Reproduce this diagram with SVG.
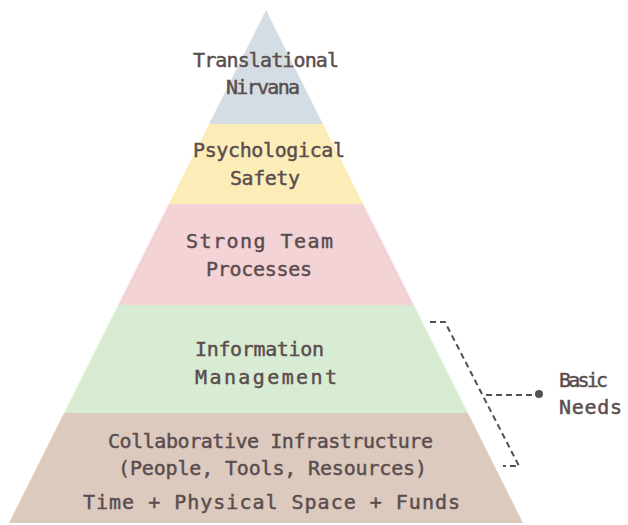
<svg xmlns="http://www.w3.org/2000/svg" width="628" height="525" viewBox="0 0 628 525">
  <style>
    .lbl { font-family: "DejaVu Sans Mono", "Liberation Mono", monospace; font-size: 20px; fill: #5a4d4e; stroke: #5a4d4e; stroke-width: 0.45; text-anchor: middle; }
    .side { text-anchor: start; }
    .dash { fill: none; stroke: #555050; stroke-width: 2; stroke-dasharray: 6 4; }
  </style>
  <rect width="628" height="525" fill="#ffffff"/>

  <!-- pyramid tiers, top to bottom -->
  <g id="tier-nirvana">
    <polygon points="266,10 322.9,124 209.1,124" fill="#d4dde3"/>
    <text class="lbl" x="266" y="67" textLength="146" lengthAdjust="spacing">Translational</text>
    <text class="lbl" x="263" y="94" textLength="74" lengthAdjust="spacing">Nirvana</text>
  </g>
  <g id="tier-safety">
    <polygon points="209.1,124 322.9,124 363.2,204 168.8,204" fill="#fcedb8"/>
    <text class="lbl" x="269" y="157" textLength="152" lengthAdjust="spacing">Psychological</text>
    <text class="lbl" x="265" y="185" textLength="70" lengthAdjust="spacing">Safety</text>
  </g>
  <g id="tier-processes">
    <polygon points="168.8,204 363.2,204 413.8,305 118.2,305" fill="#f4d3d7"/>
    <text class="lbl" x="259.5" y="248" textLength="147" lengthAdjust="spacing">Strong Team</text>
    <text class="lbl" x="259" y="276" textLength="106" lengthAdjust="spacing">Processes</text>
  </g>
  <g id="tier-information">
    <polygon points="118.2,305 413.8,305 467.9,413 64.1,413" fill="#d8ecd3"/>
    <text class="lbl" x="259.5" y="356" textLength="129" lengthAdjust="spacing">Information</text>
    <text class="lbl" x="266" y="384" textLength="142" lengthAdjust="spacing">Management</text>
  </g>
  <g id="tier-infrastructure">
    <polygon points="64.1,413 467.9,413 523,523 9,523" fill="#dccabf"/>
    <text class="lbl" x="270.5" y="448" textLength="325" lengthAdjust="spacing">Collaborative Infrastructure</text>
    <text class="lbl" x="272.5" y="475" textLength="309" lengthAdjust="spacing">(People, Tools, Resources)</text>
    <text class="lbl" x="271.5" y="509" textLength="377" lengthAdjust="spacing">Time + Physical Space + Funds</text>
  </g>

  <!-- bracket grouping the two lower tiers -->
  <g id="connectors">
    <path class="dash" d="M430,322 H445 L519,466 H503"/>
    <path class="dash" d="M486,395 H536"/>
    <circle cx="539" cy="394" r="4" fill="#555050"/>
  </g>

  <g id="basic-needs">
    <text class="lbl side" x="559" y="387" textLength="49" lengthAdjust="spacing">Basic</text>
    <text class="lbl side" x="559" y="414" textLength="63" lengthAdjust="spacing">Needs</text>
  </g>
</svg>
